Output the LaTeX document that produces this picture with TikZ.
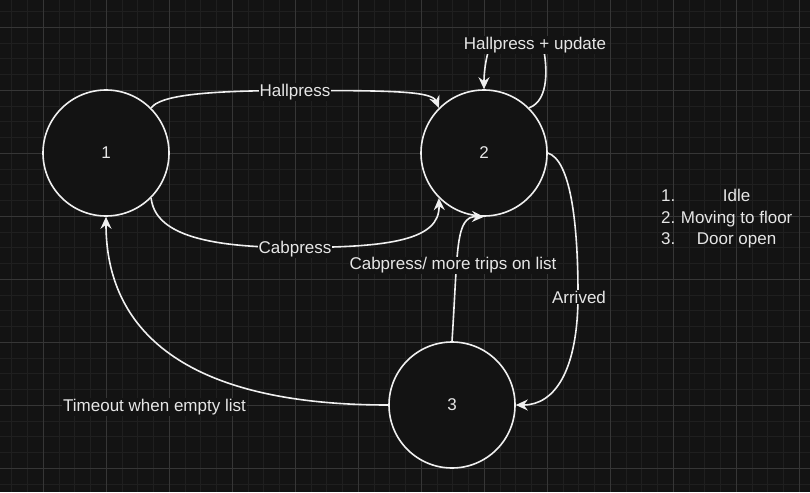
\documentclass[tikz,border=0pt]{standalone}
\usepackage{fontspec}
\setmainfont{Liberation Sans}
\usetikzlibrary{arrows.meta}
\definecolor{bg}{HTML}{131313}
\definecolor{gridminor}{HTML}{1F1F1F}
\definecolor{gridmajor}{HTML}{363636}
\definecolor{ink}{HTML}{F0F0F0}
\definecolor{txt}{HTML}{E6E6E6}
\begin{document}
\begin{tikzpicture}[x=1pt,y=-1pt,
  state/.style={circle,draw=ink,fill=bg,line width=1.6pt,minimum size=126pt,inner sep=0pt,text=txt,font=\fontsize{17}{20}\selectfont},
  edge/.style={draw=ink,line width=1.6pt,-{Stealth[length=12pt,width=11pt,inset=4pt]}},
  lbl/.style={fill=bg,text=txt,inner sep=1pt,font=\fontsize{17}{20}\selectfont},
  minorline/.style={draw=gridminor,line width=1pt},
  majorline/.style={draw=gridmajor,line width=1pt}]
\fill[bg] (0,0) rectangle (810,492);
\useasboundingbox (0,0) rectangle (810,492);
\begin{scope}
\clip (0,0) rectangle (810,492);
\foreach \i in {-3,...,50}{\pgfmathsetmacro\gx{43.3+15.75*\i}\draw[minorline] (\gx,0) -- (\gx,492);}
\foreach \i in {-2,...,31}{\pgfmathsetmacro\gy{27.3+15.75*\i}\draw[minorline] (0,\gy) -- (810,\gy);}
\foreach \i in {0,...,12}{\pgfmathsetmacro\gx{43.3+63*\i}\draw[majorline] (\gx,0) -- (\gx,492);}
\foreach \i in {0,...,7}{\pgfmathsetmacro\gy{27.3+63*\i}\draw[majorline] (0,\gy) -- (810,\gy);}
\end{scope}

% states
\node[state] (n1) at (106,153) {1};
\node[state] (n2) at (484,153) {2};
\node[state] (n3) at (452,405) {3};

% edges
\draw[edge] (n1.45) .. controls (160,96) and (200,90.5) .. (295,90.5) .. controls (390,90.5) and (432,91) .. (n2.135);
\draw[edge] (n1.-45) .. controls (155,232) and (200,247.5) .. (295,247.5) .. controls (390,247.5) and (440,240) .. (n2.-135);
\draw[edge] (n2.45) .. controls (550,100) and (547,65) .. (543,46) -- (490,46) .. controls (485,60) and (484,75) .. (n2.north);
\draw[edge] (n3.north) .. controls (458,250) and (455,216) .. (n2.south);
\draw[edge] (n2.east) .. controls (570,160) and (578,220) .. (578,295) .. controls (578,370) and (555,405) .. (n3.east);
\draw[edge] (n3.west) .. controls (170,405) and (106,320) .. (n1.south);

% labels
\node[lbl] (lhall) at (295,92) {Hallpress};
\node[lbl] (lcab) at (295,249.5) {Cabpress};
\node[lbl] (lloop) at (535,45) {Hallpress + update};
\node[lbl] (lmore) at (453,265.5) {Cabpress/ more trips on list};
\node[lbl] (larr) at (579,297) {Arrived};
\node[lbl] (ltime) at (154.5,407) {Timeout when empty list};

% legend
\node[anchor=west,text=txt,inner sep=0pt,font=\fontsize{17}{21.5}\selectfont] (legend) at (661,219)
  {\begin{tabular}{@{}l@{\hspace{5.5pt}}c@{}}1.&Idle\\2.&Moving to floor\\3.&Door open\end{tabular}};
\end{tikzpicture}
\end{document}
